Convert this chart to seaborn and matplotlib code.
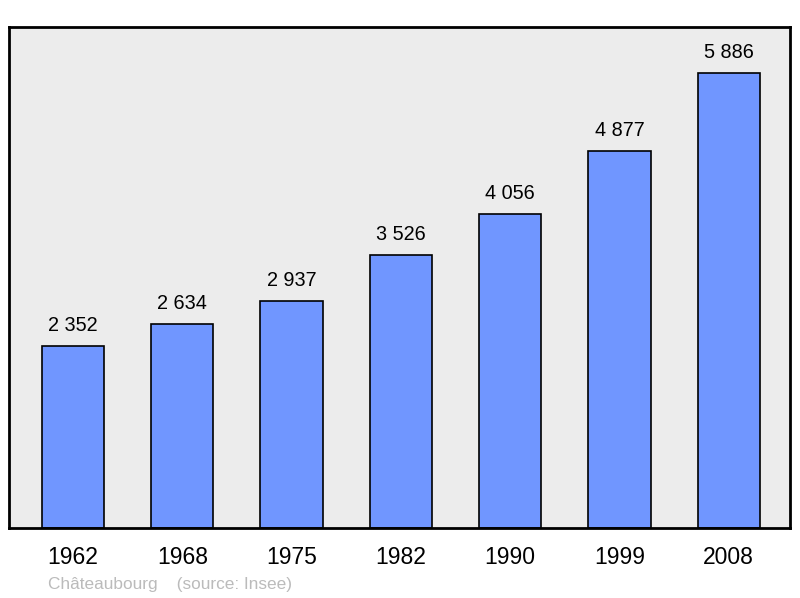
import matplotlib
matplotlib.use("Agg")
import matplotlib.pyplot as plt
import seaborn as sns
import pandas as pd

years = ["1962", "1968", "1975", "1982", "1990", "1999", "2008"]
population = [2352, 2634, 2937, 3526, 4056, 4877, 5886]
labels = ["2 352", "2 634", "2 937", "3 526", "4 056", "4 877", "5 886"]

df = pd.DataFrame({"year": years, "pop": population})

sns.set_style("white")
plt.rcParams["font.family"] = ["Liberation Sans", "DejaVu Sans"]
plt.rcParams["text.color"] = "black"
plt.rcParams["xtick.color"] = "black"

fig = plt.figure(figsize=(8, 5.98), dpi=100)
ax = fig.add_axes([9/800, 1 - 528/598, 781/800, 501/598])
ax.set_facecolor("#ececec")

sns.barplot(x="year", y="pop", data=df, color="#7096ff", saturation=1,
            width=0.57, edgecolor="black", linewidth=1.2, ax=ax)

for i, (v, lab) in enumerate(zip(population, labels)):
    ax.annotate(lab, (i, v), xytext=(0, 8), textcoords="offset points",
                ha="center", va="bottom", fontsize=14.3, color="black")

ax.set_xlim(-0.585, 6.56)
ax.set_ylim(0, 6480)
ax.set_yticks([])
ax.set_xlabel("")
ax.set_ylabel("")
ax.tick_params(axis="x", length=0, labelsize=16.5, pad=13, labelcolor="black")
for s in ax.spines.values():
    s.set_visible(True)
    s.set_color("black")
    s.set_linewidth(2)

fig.text(48/800, 1 - 584/598, "Châteaubourg    (source: Insee)",
         color="#bbbbbb", fontsize=12.4, ha="left", va="center")

fig.savefig("out.png", dpi=100)
